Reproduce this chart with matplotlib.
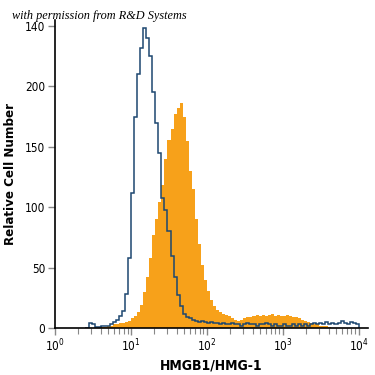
import numpy as np
import matplotlib
matplotlib.use("Agg")
import matplotlib.pyplot as plt
from matplotlib.ticker import FixedLocator, LogLocator, NullFormatter

plt.rcParams['font.family'] = ['DejaVu Sans']
plt.rcParams['font.stretch'] = 'condensed'

# histogram channels: log10 left edges start at 0.40, step 0.04 decade
log_start = 0.40
log_step = 0.04

# isotype control (blue outline)
control_counts = [
    0, 4, 3, 1, 1, 2, 2, 2, 3, 5,
    7, 10, 14, 28, 58, 112, 175, 210, 232, 248,
    240, 225, 195, 170, 145, 108, 98, 80, 60, 42,
    27, 18, 12, 9, 8, 7, 6, 5, 6, 5,
    4, 5, 4, 4, 3, 4, 3, 3, 4, 3,
    3, 2, 3, 4, 3, 3, 2, 3, 3, 4,
    3, 2, 3, 2, 2, 3, 2, 2, 3, 2,
    3, 2, 3, 2, 3, 4, 3, 4, 3, 5,
    3, 4, 3, 4, 6, 4, 3, 5, 4, 3,
]

# HMGB1 stained (orange filled)
stained_counts = [
    0, 0, 0, 0, 0, 1, 1, 2, 2, 3,
    3, 4, 4, 5, 6, 8, 10, 13, 19, 30,
    42, 58, 77, 90, 104, 118, 140, 156, 165, 177,
    182, 186, 175, 155, 130, 115, 90, 70, 52, 40,
    31, 23, 18, 15, 13, 12, 11, 10, 8, 7,
    6, 7, 8, 9, 9, 10, 11, 10, 11, 10,
    11, 12, 10, 11, 10, 10, 11, 10, 9, 9,
    8, 7, 6, 5, 4, 3, 3, 2, 2, 2,
    1, 0, 0, 0, 0, 0, 0, 0, 0, 0,
]

y_ticks = [0, 50, 100, 150, 200, 250]
y_tick_labels = ['0', '50', '100', '150', '200', '140']
x_ticks = [1, 10, 100, 1000, 10000]
x_tick_labels = ['$10^0$', '$10^1$', '$10^2$', '$10^3$', '$10^4$']

n = len(control_counts)
edges = 10 ** (log_start + log_step * np.arange(n + 1))

fig = plt.figure(figsize=(3.75, 3.75), dpi=100)
ax = fig.add_axes([0.147, 0.125, 0.834, 0.822])

ax.stairs(stained_counts, edges, fill=True, color='#f7a11a', lw=0)
ax.stairs(control_counts, edges, fill=False, color='#1d4770', lw=1.1)

ax.set_xscale('log')
ax.set_xlim(1, 10 ** 4.12)
ax.set_ylim(0, 255)

ax.xaxis.set_major_locator(FixedLocator(x_ticks))
ax.set_xticklabels(x_tick_labels, fontsize=8.5)
ax.xaxis.set_minor_locator(LogLocator(base=10, subs=np.arange(2, 10)))
ax.xaxis.set_minor_formatter(NullFormatter())
ax.set_yticks(y_ticks)
ax.set_yticklabels(y_tick_labels, fontsize=8.5)

ax.tick_params(axis='both', which='major', direction='out', length=5, width=1, color='#888888', pad=2)
ax.tick_params(axis='x', which='minor', direction='out', length=4, width=0.8, color='#888888')

for s in ['top', 'right']:
    ax.spines[s].set_visible(False)
for s in ['left', 'bottom']:
    ax.spines[s].set_linewidth(1.2)
    ax.spines[s].set_color('black')

ax.set_xlabel('HMGB1/HMG-1', fontsize=10, fontweight='bold', labelpad=3)
ax.set_ylabel('Relative Cell Number', fontsize=9.5, fontweight='bold', labelpad=6)

fig.text(0.032, 0.958, 'with permission from R&D Systems', fontsize=8.8,
         family='Liberation Serif', style='italic', va='center', ha='left')

plt.savefig('out.png', dpi=100)
